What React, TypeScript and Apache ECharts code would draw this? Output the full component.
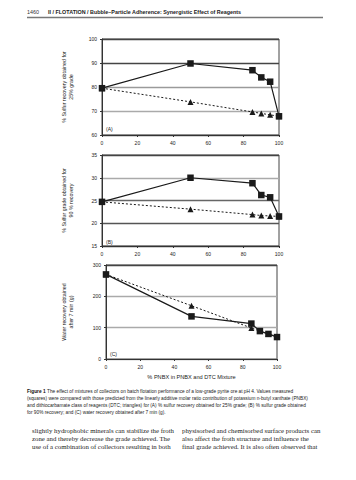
import React, { useEffect, useRef } from "react";
import * as echarts from "echarts";

const xPct = [0, 50, 85, 90, 95, 100];
const xTicks = [0, 20, 40, 60, 80, 100];
const recMeasured = [79.5, 89.8, 87.0, 84.0, 82.2, 67.8];
const recPredicted = [79.5, 73.8, 69.6, 69.0, 68.4, 67.8];
const gradeMeasured = [24.7, 30.0, 28.8, 26.2, 25.7, 21.5];
const gradePredicted = [24.7, 23.1, 21.9, 21.7, 21.6, 21.5];
const waterMeasured = [270, 136, 113, 89, 80, 70];
const waterPredicted = [270, 170, 99, 89, 80, 70];

const headerNum = "1460";
const headerTitle = "II / FLOTATION / Bubble\u2013Particle Adherence: Synergistic Effect of Reagents";
const captionLines = [
  "The effect of mixtures of collectors on batch flotation performance of a low-grade pyrite ore at pH 4. Values measured",
  "(squares) were compared with those predicted from the linearly additive molar ratio contribution of potassium n-butyl xanthate (PNBX)",
  "and dithiocarbamate class of reagents (DTC; triangles) for (A) % sulfur recovery obtained for 25% grade; (B) % sulfur grade obtained",
  "for 90% recovery; and (C) water recovery obtained after 7 min (g).",
];
const bodyLeft = [
  "slightly hydrophobic minerals can stabilize the froth",
  "zone and thereby decrease the grade achieved. The",
  "use of a combination of collectors resulting in both",
];
const bodyRight = [
  "physisorbed and chemisorbed surface products can",
  "also affect the froth structure and influence the",
  "final grade achieved. It is also often observed that",
];

const SANS = "Liberation Sans, Arial, sans-serif";
const SERIF = "Liberation Serif, Times New Roman, serif";
const INK = "#1a1a1a";

export default function App() {
  const ref = useRef<HTMLDivElement>(null);
  useEffect(() => {
    document.body.style.margin = "0";
    const chart = echarts.init(ref.current!, null, { renderer: "svg" });
    const grids = [
      { left: 102, width: 177, top: 39, height: 96 },
      { left: 102, width: 177, top: 155, height: 91 },
      { left: 106, width: 171, top: 265, height: 94 },
    ];
    const xAxis = grids.map((_, i) => ({
      type: "value",
      gridIndex: i,
      min: 0,
      max: 100,
      interval: 20,
      name: i === 2 ? "% PNBX in PNBX and DTC Mixture" : "",
      nameLocation: "middle",
      nameGap: 15,
      nameTextStyle: { fontFamily: SANS, fontSize: 5.6, color: INK },
      axisLine: { show: true, lineStyle: { color: "#333", width: 1 } },
      axisTick: { show: true, length: 2, lineStyle: { color: "#333" } },
      axisLabel: {
        fontFamily: SANS,
        fontSize: 5,
        color: INK,
        margin: 5,
        formatter: (v: number) => (xTicks.includes(v) ? String(v) : ""),
      },
      splitLine: { show: false },
    }));
    const yCfg = [
      { min: 60, max: 100, interval: 10, name: "% Sulfur recovery obtained for\n25% grade", gap: 28,
        colors: ["#555", "#aaa", "#9a9a9a", "#444", "#444"] },
      { min: 15, max: 35, interval: 5, name: "% Sulfur grade obtained for\n90 % recovery", gap: 28,
        colors: ["#444", "#555", "#666", "#aaa", "#444"] },
      { min: 0, max: 300, interval: 100, name: "Water recovery obtained\nafter 7 min (g)", gap: 32,
        colors: ["#aaa", "#aaa", "#aaa", "#444"] },
    ];
    const yAxis = yCfg.map((c, i) => ({
      type: "value",
      gridIndex: i,
      min: c.min,
      max: c.max,
      interval: c.interval,
      name: c.name,
      nameLocation: "middle",
      nameRotate: 90,
      nameGap: c.gap,
      nameTextStyle: { fontFamily: SANS, fontSize: 5.3, color: INK, lineHeight: 6.5 },
      axisLine: { show: true, lineStyle: { color: "#333", width: 1 } },
      axisTick: { show: true, length: 2, lineStyle: { color: "#333" } },
      axisLabel: { fontFamily: SANS, fontSize: 5, color: INK, margin: 5 },
      splitLine: { show: true, lineStyle: { color: c.colors, width: 1.3 } },
    }));
    const measured = [recMeasured, gradeMeasured, waterMeasured];
    const predicted = [recPredicted, gradePredicted, waterPredicted];
    const series: any[] = [];
    for (let i = 0; i < 3; i++) {
      series.push({
        type: "line",
        xAxisIndex: i,
        yAxisIndex: i,
        data: xPct.map((x, k) => [x, predicted[i][k]]),
        symbol: "triangle",
        symbolSize: 6,
        itemStyle: { color: INK },
        lineStyle: { color: INK, width: 1, type: [2, 2] },
        z: 3,
      });
      series.push({
        type: "line",
        xAxisIndex: i,
        yAxisIndex: i,
        data: xPct.map((x, k) => [x, measured[i][k]]),
        symbol: "rect",
        symbolSize: 6.5,
        itemStyle: { color: INK },
        lineStyle: { color: INK, width: 1.2 },
        z: 4,
      });
    }
    const panelLabels = [
      { t: "(A)", x: 106, y: 129 },
      { t: "(B)", x: 106, y: 241.5 },
      { t: "(C)", x: 110, y: 354 },
    ];
    const capY = 391;
    const capStep = 7.3;
    const bodyY = 430.5;
    const bodyStep = 7.8;
    const graphic: any[] = [
      { type: "text", left: 27, top: 9.5, style: { text: headerNum, font: `5.4px ${SANS}`, fill: "#333" } },
      { type: "text", left: 48, top: 9.5, style: { text: headerTitle, font: `bold 5.4px ${SANS}`, fill: "#222" } },
      { type: "line", shape: { x1: 27, y1: 17.5, x2: 323, y2: 17.5 }, style: { stroke: "#777", lineWidth: 1.5 } },
      ...panelLabels.map((p) => ({
        type: "text", x: p.x, y: p.y, style: { text: p.t, font: `5px ${SANS}`, fill: INK, textVerticalAlign: "middle" },
      })),
      { type: "text", x: 27, y: capY, style: { text: "Figure 1", font: `bold 4.8px ${SANS}`, fill: "#111", textVerticalAlign: "middle" } },
      ...captionLines.map((t, k) => ({
        type: "text",
        x: k === 0 ? 47 : 27,
        y: capY + k * capStep,
        style: { text: t, font: `4.75px ${SANS}`, fill: "#222", textVerticalAlign: "middle" },
      })),
      ...bodyLeft.map((t, k) => ({
        type: "text", x: 32, y: bodyY + k * bodyStep,
        style: { text: t, font: `6.8px ${SERIF}`, fill: "#222", textVerticalAlign: "middle" },
      })),
      ...bodyRight.map((t, k) => ({
        type: "text", x: 182, y: bodyY + k * bodyStep,
        style: { text: t, font: `6.8px ${SERIF}`, fill: "#222", textVerticalAlign: "middle" },
      })),
    ];
    chart.setOption({
      animation: false,
      backgroundColor: "#fff",
      grid: grids.map((g) => ({ ...g, show: true, borderColor: "#444", borderWidth: 1, containLabel: false })),
      xAxis,
      yAxis,
      series,
      graphic,
    });
    return () => chart.dispose();
  }, []);
  return <div ref={ref} style={{ width: 356, height: 480 }} />;
}
